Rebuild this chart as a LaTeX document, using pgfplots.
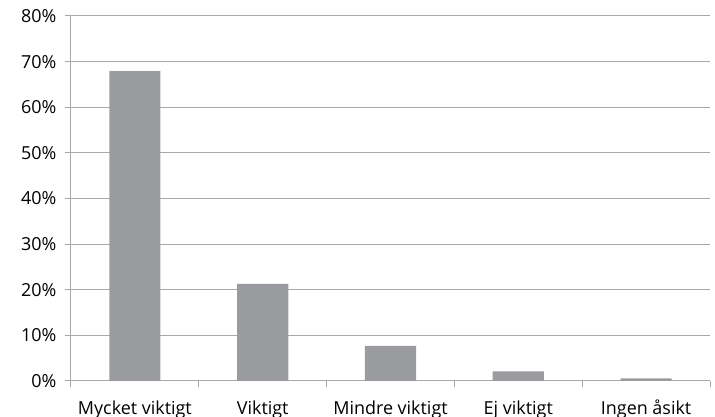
\documentclass[border=0pt]{standalone}
\usepackage{pgfplots}
\pgfplotsset{compat=1.18}
\usepackage{fontspec}
\setmainfont{Open Sans}
\definecolor{bargray}{HTML}{9A9B9F}
\definecolor{linegray}{HTML}{A8A8A8}
\begin{document}
\begin{tikzpicture}
\begin{axis}[
    scale only axis,
    width=639bp, height=365bp,
    xmin=-0.5, xmax=4.5,
    ymin=0, ymax=80,
    axis x line*=bottom, axis y line*=left,
    axis line style={linegray, line width=1bp, -},
    ymajorgrids,
    grid style={linegray, line width=1bp},
    ytick={0,10,...,80},
    yticklabel={\pgfmathprintnumber{\tick}\%},
    /pgf/number format/assume math mode=true,
    tick align=outside,
    major tick length=6bp,
    tick style={linegray, line width=1bp},
    xtick={0,1,2,3,4},
    xticklabels={Mycket viktigt, Viktigt, Mindre viktigt, Ej viktigt, Ingen åsikt},
    xtick style={draw=none},
    extra x ticks={-0.5,0.5,1.5,2.5,3.5,4.5},
    extra x tick labels={},
    extra x tick style={xtick style={draw=linegray}, grid=none},
    ticklabel style={font=\fontsize{18}{21}\selectfont, text=black},
    xticklabel style={yshift=-10bp, text height=13.5bp, text depth=4bp},
    yticklabel style={xshift=-5bp},
    ybar, bar width=0.4,
]
\addplot[fill=bargray, draw=none] coordinates {(0,67.9) (1,21.3) (2,7.7) (3,2.1) (4,0.6)};
\coordinate (sw) at (rel axis cs:0,0);
\coordinate (ne) at (rel axis cs:1,1);
\end{axis}
\pgfresetboundingbox
\path[use as bounding box] ([shift={(-71bp,-36bp)}]sw) rectangle ([shift={(5bp,16bp)}]ne);
\end{tikzpicture}
\end{document}
